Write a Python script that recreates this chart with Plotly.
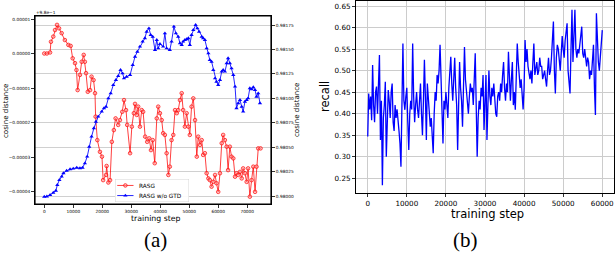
import plotly.graph_objects as go

# ---------------- (a) cosine distance vs training step ----------------
rasg_steps = [0, 900, 2000, 2300, 3100, 3700, 4400, 5100, 6000, 7100, 8300, 9100, 9800, 10600, 11100,
              11500, 12300, 12900, 13600, 14000, 14400, 15000, 15800, 16300, 17000, 17500, 17700, 18300,
              19200, 19900, 20300, 21300, 21500, 22100, 22700, 23300, 24000, 24600, 25500, 26100, 26900,
              27500, 28200, 28600, 29600, 30200, 30900, 31300, 31900, 32400, 33000, 33600, 34100, 34800,
              35500, 36200, 36800, 37400, 38100, 38800, 39300, 39900, 40500, 41000, 41600, 42200, 42800,
              43300, 43900, 44500, 45100, 45700, 46200, 46800, 47400, 47900, 48500, 49100, 49700, 50200,
              50800, 51400, 52000, 52600, 53100, 53700, 54300, 54800, 55400, 56000, 56600, 57100, 57700,
              58300, 58900, 59400, 60000, 60600, 61200, 61700, 62300, 62900, 63400, 64000, 64600, 65200,
              65800, 66300, 66900, 67500, 68100, 68600, 69200, 69800, 70300, 70900, 71500, 72100, 72700,
              73200, 73800, 74600]
# offset from 0.98, in units of 1e-5 (left axis shows value - 0.98)
rasg_offset_1e5 = [0.0, 0.0, 0.03, 0.34, 0.49, 0.68, 0.83, 0.73, 0.59, 0.39, 0.25, 0.22, -0.14, -0.28, -0.48,
                   -1.06, -0.62, -0.24, -0.04, -0.24, -0.57, -1.11, -1.06, -0.67, -0.77, -1.15, -1.83, -2.51,
                   -2.85, -2.99, -3.67, -3.52, -3.26, -3.74, -3.67, -2.56, -2.22, -1.88, -2.07, -1.93, -1.69,
                   -1.35, -1.64, -2.07, -2.89, -2.12, -1.73, -1.46, -1.78, -1.54, -2.12, -1.64, -1.69, -2.41,
                   -2.56, -2.46, -2.80, -2.51, -3.18, -1.88, -1.54, -1.73, -1.93, -2.31, -2.36, -2.89, -3.52,
                   -3.28, -2.51, -2.36, -1.64, -1.73, -1.64, -1.35, -1.15, -1.64, -2.12, -1.73, -2.12, -2.36,
                   -1.54, -1.30, -1.93, -2.99, -2.41, -2.65, -2.51, -2.94, -2.89, -3.47, -3.62, -3.67, -3.86,
                   -3.72, -3.52, -3.76, -4.01, -3.47, -2.60, -2.36, -2.51, -2.70, -3.38, -2.70, -2.99, -3.04,
                   -3.57, -3.47, -3.52, -3.43, -3.62, -3.33, -3.47, -3.72, -3.33, -4.15, -3.67, -3.28, -4.01,
                   -3.28, -2.75, -2.75]
rasg_base = 0.98

gtd_steps = [0, 900, 2000, 3100, 4000, 4500, 5200, 6000, 6600, 7700, 8900, 10000, 11200, 12300, 13200,
             14000, 14800, 15500, 16300, 17100, 17800, 18600, 19800, 20600, 21300, 22100, 22900, 23800,
             24700, 25500, 26300, 27000, 27500, 28400, 29600, 30500, 31300, 32100, 33000, 33900, 34700,
             35300, 36100, 36700, 37400, 38200, 38800, 39300, 39900, 41000, 41600, 42200, 43300, 43900,
             44700, 45400, 46200, 46800, 47400, 47900, 48500, 49100, 49700, 50200, 50800, 51400, 52200,
             52800, 53400, 54300, 54800, 55400, 56000, 56600, 57100, 57700, 58300, 58900, 59400, 60000,
             60600, 61200, 61700, 62300, 62900, 63400, 64000, 64600, 65200, 65800, 66300, 66900, 67500,
             68100, 68600, 69200, 69800, 70300, 70900, 71500, 72100, 72700, 73200, 73800, 74400]
gtd_values = [0.979993, 0.979995, 0.980010, 0.980034, 0.980054, 0.980113, 0.980164, 0.980198, 0.980233,
              0.980259, 0.980274, 0.980280, 0.980290, 0.980284, 0.980290, 0.980335, 0.980403, 0.980505,
              0.980608, 0.980694, 0.980761, 0.980813, 0.980864, 0.980899, 0.980915, 0.981001, 0.981052,
              0.981137, 0.981189, 0.981230, 0.981291, 0.981257, 0.981206, 0.981222, 0.981240, 0.981342,
              0.981427, 0.981478, 0.981530, 0.981581, 0.981616, 0.981683, 0.981718, 0.981650, 0.981632,
              0.981496, 0.981598, 0.981513, 0.981557, 0.981530, 0.981667, 0.981513, 0.981496, 0.981581,
              0.981735, 0.981667, 0.981632, 0.981565, 0.981547, 0.981581, 0.981598, 0.981606, 0.981616,
              0.981547, 0.981650, 0.981701, 0.981752, 0.981718, 0.981683, 0.981632, 0.981616, 0.981598,
              0.981513, 0.981462, 0.981393, 0.981376, 0.981291, 0.981206, 0.981171, 0.981137, 0.981189,
              0.981274, 0.981291, 0.981274, 0.981360, 0.981411, 0.981360, 0.981308, 0.981240, 0.981120,
              0.980899, 0.980950, 0.980984, 0.980915, 0.980864, 0.980966, 0.980984, 0.981001, 0.981104,
              0.981093, 0.981114, 0.981086, 0.981017, 0.981052, 0.980950]

a_xticks = [0, 10000, 20000, 30000, 40000, 50000, 60000, 70000]
a_xticklabels = ["0", "10000", "20000", "30000", "40000", "50000", "60000", "70000"]
a_left_ticks_1e5 = [1, 0, -1, -2, -3, -4]
a_left_ticklabels = ["0.00001", "0.00000", "\u22120.00001", "\u22120.00002", "\u22120.00003", "\u22120.00004"]
a_right_ticks = [0.98000, 0.98025, 0.98050, 0.98075, 0.98100, 0.98125, 0.98150, 0.98175]
a_right_ticklabels = ["0.98000", "0.98025", "0.98050", "0.98075", "0.98100", "0.98125", "0.98150", "0.98175"]
legend_labels = ["RASG", "RASG w/o GTD"]

# ---------------- (b) recall vs training step ----------------
recall_step_interval = 250
recall_values = [
    0.347, 0.447, 0.41, 0.44, 0.385, 0.513, 0.42, 0.38, 0.45, 0.463,
    0.40, 0.49, 0.536, 0.339, 0.43, 0.234, 0.39, 0.42, 0.474, 0.30,
    0.38, 0.455, 0.43, 0.39, 0.45, 0.47, 0.38, 0.36, 0.42, 0.39,
    0.41, 0.37, 0.36, 0.331, 0.277, 0.42, 0.563, 0.43, 0.409, 0.44,
    0.46, 0.38, 0.316, 0.40, 0.43, 0.41, 0.563, 0.44, 0.38, 0.42,
    0.45, 0.41, 0.39, 0.43, 0.47, 0.40, 0.35, 0.43, 0.525, 0.44,
    0.339, 0.47, 0.44, 0.41, 0.37, 0.39, 0.33, 0.308, 0.40, 0.45,
    0.43, 0.49, 0.47, 0.50, 0.56, 0.465, 0.40, 0.331, 0.43, 0.41,
    0.45, 0.42, 0.39, 0.46, 0.50, 0.532, 0.47, 0.43, 0.48, 0.53,
    0.46, 0.42, 0.316, 0.44, 0.52, 0.46, 0.43, 0.37, 0.46, 0.555,
    0.48, 0.45, 0.43, 0.40, 0.44, 0.47, 0.45, 0.46, 0.42, 0.48,
    0.54, 0.42, 0.30, 0.39, 0.43, 0.41, 0.46, 0.44, 0.49, 0.362,
    0.45, 0.49, 0.339, 0.42, 0.50, 0.44, 0.42, 0.46, 0.44, 0.47,
    0.43, 0.40, 0.393, 0.44, 0.45, 0.43, 0.47, 0.45, 0.49, 0.52,
    0.46, 0.43, 0.47, 0.45, 0.544, 0.47, 0.43, 0.48, 0.52, 0.42,
    0.45, 0.409, 0.47, 0.563, 0.52, 0.49, 0.46, 0.48, 0.44, 0.41,
    0.46, 0.571, 0.52, 0.55, 0.51, 0.49, 0.48, 0.50, 0.47, 0.52,
    0.563, 0.49, 0.51, 0.52, 0.49, 0.50, 0.53, 0.51, 0.51, 0.48,
    0.49, 0.50, 0.48, 0.463, 0.50, 0.53, 0.49, 0.50, 0.53, 0.57,
    0.614, 0.50, 0.447, 0.53, 0.56, 0.55, 0.52, 0.50, 0.54, 0.58,
    0.55, 0.53, 0.57, 0.59, 0.61, 0.50, 0.48, 0.447, 0.55, 0.641,
    0.52, 0.57, 0.641, 0.55, 0.53, 0.55, 0.54, 0.56, 0.58, 0.602,
    0.54, 0.53, 0.55, 0.53, 0.51, 0.53, 0.52, 0.48, 0.50, 0.49,
    0.52, 0.56, 0.46, 0.397, 0.633, 0.55, 0.52, 0.50, 0.53, 0.56,
    0.594]
recall_steps = [i * recall_step_interval for i in range(len(recall_values))]
b_xticks = [0, 10000, 20000, 30000, 40000, 50000, 60000]
b_xticklabels = ["0", "10000", "20000", "30000", "40000", "50000", "60000"]
b_yticks = [0.25, 0.30, 0.35, 0.40, 0.45, 0.50, 0.55, 0.60, 0.65]
b_yticklabels = ["0.25", "0.30", "0.35", "0.40", "0.45", "0.50", "0.55", "0.60", "0.65"]

W, H = 616, 258
FONT = "DejaVu Sans"
RED_LINE = "rgba(255,0,0,0.75)"
RED_MARK = dict(symbol="circle", size=3.6, color="rgba(255,150,150,0.55)",
                line=dict(color="rgba(255,0,0,0.85)", width=0.8))
BLUE_LINE = "rgba(0,0,255,0.85)"
BLUE_MARK = dict(symbol="triangle-up", size=3.8, color="blue", line=dict(width=0))

fig = go.Figure()

fig.add_trace(go.Scatter(
    x=rasg_steps, y=[rasg_base + v * 1e-5 for v in rasg_offset_1e5],
    mode="lines+markers", name=legend_labels[0],
    line=dict(color=RED_LINE, width=1), marker=RED_MARK,
    xaxis="x", yaxis="y"))

fig.add_trace(go.Scatter(
    x=gtd_steps, y=gtd_values,
    mode="lines+markers", name=legend_labels[1],
    line=dict(color=BLUE_LINE, width=1), marker=BLUE_MARK,
    xaxis="x", yaxis="y2"))

fig.add_trace(go.Scatter(
    x=recall_steps, y=recall_values, mode="lines",
    line=dict(color="blue", width=1.3),
    xaxis="x2", yaxis="y3"))

# ----- legend of (a), drawn in its own small overlay axes (0..1 box) -----
fig.add_trace(go.Scatter(
    x=[0, 1, 1, 0, 0], y=[0, 0, 1, 1, 0], mode="lines", fill="toself",
    fillcolor="rgba(255,255,255,0.9)", line=dict(color="#cccccc", width=0.8),
    hoverinfo="skip", xaxis="x3", yaxis="y4"))
fig.add_trace(go.Scatter(
    x=[0.03, 0.25], y=[0.72, 0.72], mode="lines", line=dict(color=RED_LINE, width=1),
    hoverinfo="skip", xaxis="x3", yaxis="y4"))
fig.add_trace(go.Scatter(
    x=[0.14], y=[0.72], mode="markers", marker=RED_MARK,
    hoverinfo="skip", xaxis="x3", yaxis="y4"))
fig.add_trace(go.Scatter(
    x=[0.03, 0.25], y=[0.28, 0.28], mode="lines", line=dict(color=BLUE_LINE, width=1),
    hoverinfo="skip", xaxis="x3", yaxis="y4"))
fig.add_trace(go.Scatter(
    x=[0.14], y=[0.28], mode="markers", marker=BLUE_MARK,
    hoverinfo="skip", xaxis="x3", yaxis="y4"))

ax_common = dict(showline=True, linecolor="black", linewidth=1, ticks="outside",
                 ticklen=3, tickwidth=0.8, tickcolor="black", zeroline=False, automargin=False)

ax_l, ax_r = 35 / W, 271 / W
ay_b, ay_t = (H - 204) / H, (H - 16) / H
bx_l, bx_r = 356 / W, 614 / W
by_b, by_t = (H - 193) / H, (H - 1) / H
lg_l, lg_r = 115 / W, 189 / W
lg_b, lg_t = (H - 202) / H, (H - 179) / H

hidden = dict(visible=False, range=[0, 1], fixedrange=True, automargin=False)

fig.update_layout(
    width=W, height=H, margin=dict(l=0, r=0, t=0, b=0),
    paper_bgcolor="white", plot_bgcolor="rgba(0,0,0,0)",
    font=dict(family=FONT, color="black"),
    showlegend=False,
    xaxis=dict(domain=[ax_l, ax_r], range=[-3200, 78200], anchor="y", mirror=True,
               tickvals=a_xticks, ticktext=a_xticklabels, tickfont=dict(size=4.3),
               showgrid=False, **ax_common),
    yaxis=dict(domain=[ay_b, ay_t], range=[rasg_base - 4.362e-5, rasg_base + 1.087e-5], anchor="x",
               tickvals=[rasg_base + t * 1e-5 for t in a_left_ticks_1e5], ticktext=a_left_ticklabels,
               tickfont=dict(size=4.3), showgrid=False, mirror=False, **ax_common),
    yaxis2=dict(overlaying="y", side="right", anchor="x", range=[0.979918, 0.981844],
                tickvals=a_right_ticks, ticktext=a_right_ticklabels, tickfont=dict(size=4.3),
                showgrid=True, gridcolor="#d0d0d0", gridwidth=1, **ax_common),
    xaxis2=dict(domain=[bx_l, bx_r], range=[-3000, 63000], anchor="y3", mirror=True,
                tickvals=b_xticks, ticktext=b_xticklabels, tickfont=dict(size=7.2),
                showgrid=True, gridcolor="#cccccc", gridwidth=1, **ax_common),
    yaxis3=dict(domain=[by_b, by_t], range=[0.2159, 0.6616], anchor="x2", mirror=True,
                tickvals=b_yticks, ticktext=b_yticklabels, tickfont=dict(size=7.2),
                showgrid=True, gridcolor="#cccccc", gridwidth=1, **ax_common),
    xaxis3=dict(domain=[lg_l, lg_r], anchor="y4", **hidden),
    yaxis4=dict(domain=[lg_b, lg_t], anchor="x3", **hidden),
)

# frame of panel (a)
fig.add_shape(type="rect", xref="paper", yref="paper", x0=ax_l, x1=ax_r, y0=ay_b, y1=ay_t,
              line=dict(color="black", width=1.2), fillcolor="rgba(0,0,0,0)", layer="above")

ann = [
    dict(text="cosine distance", x=6 / W, y=(H - 111) / H, textangle=-90, font=dict(size=7)),
    dict(text="cosine distance", x=297 / W, y=(H - 110) / H, textangle=-90, font=dict(size=7)),
    dict(text="training step", x=156 / W, y=(H - 218) / H, font=dict(size=7.8)),
    dict(text="+9.8e\u22121", x=34 / W, y=(H - 13) / H, xanchor="left", font=dict(size=4.3)),
    dict(text="training step", x=487 / W, y=(H - 214) / H, font=dict(size=11.5)),
    dict(text="recall", x=325 / W, y=(H - 97) / H, textangle=-90, font=dict(size=11.5)),
    dict(text="(a)", x=155 / W, y=(H - 240) / H, font=dict(size=21, family="Liberation Serif")),
    dict(text="(b)", x=465 / W, y=(H - 240) / H, font=dict(size=21, family="Liberation Serif")),
    dict(text=legend_labels[0], x=137 / W, y=(H - 185.5) / H, xanchor="left", font=dict(size=5.8)),
    dict(text=legend_labels[1], x=137 / W, y=(H - 195.5) / H, xanchor="left", font=dict(size=5.8)),
]
for a in ann:
    a.setdefault("xanchor", "center")
    a.update(xref="paper", yref="paper", showarrow=False, yanchor="middle")
    fig.add_annotation(**a)

fig.write_html("out.html",
               config={"displayModeBar": False, "staticPlot": True},
               post_script="document.body.style.margin='0';document.body.style.padding='0';"
                           "document.documentElement.style.overflow='hidden';")
